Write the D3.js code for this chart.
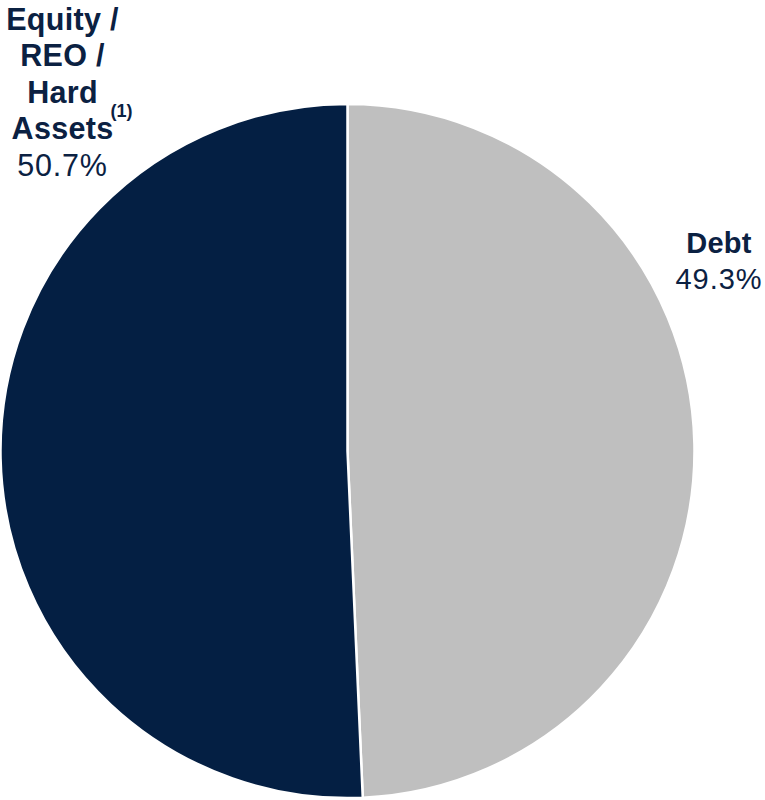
<!DOCTYPE html>
<html>
<head>
<meta charset="utf-8">
<script src="https://cdn.jsdelivr.net/npm/d3@7"></script>
<style>
  html, body { margin: 0; padding: 0; background: #ffffff; }
  svg { display: block; }
  text { font-family: "Liberation Sans", Arial, sans-serif; fill: #0b2142; }
</style>
</head>
<body>
<svg id="chart" width="765" height="800"></svg>
<script>
// Portfolio split by asset type
const categories = ["Debt", "Equity / REO / Hard Assets"];
const values = [49.3, 50.7];
const colors = ["#bfbfbf", "#041f43"];
// Label lines (bold name lines) per slice
const labelLines = [["Debt"], ["Equity /", "REO /", "Hard", "Assets"]];
const footnotes = ["", "(1)"];

const svg = d3.select("#chart");
const cx = 347.5, cy = 451, r = 347;

const data = categories.map((c, i) => ({ name: c, value: values[i], color: colors[i], lines: labelLines[i], note: footnotes[i] }));

const pie = d3.pie().sort(null).value(d => d.value).startAngle(0).endAngle(2 * Math.PI);
const arc = d3.arc().innerRadius(0).outerRadius(r);

const g = svg.append("g").attr("transform", `translate(${cx},${cy})`);
g.selectAll("path")
  .data(pie(data))
  .join("path")
  .attr("d", arc)
  .attr("fill", d => d.data.color)
  .attr("stroke", "#ffffff")
  .attr("stroke-width", 2.5)
  .attr("stroke-linejoin", "round");

const fmt = v => d3.format(".1f")(v) + "%";

// Label anchors (centre x, baseline of first line, font size)
const labelPos = [
  { x: 719, y: 252.5, size: 29, lineH: 36.5, spacing: 1 },
  { x: 62.5, y: 29.5, size: 30.5, lineH: 36.5, spacing: 0.8 }
];

data.forEach((d, i) => {
  const p = labelPos[i];
  const t = svg.append("g");
  d.lines.forEach((ln, j) => {
    const txt = t.append("text")
      .attr("x", p.x)
      .attr("y", p.y + j * p.lineH)
      .attr("text-anchor", "middle")
      .attr("font-size", p.size)
      .attr("font-weight", "bold")
      .attr("letter-spacing", 0.3)
      .text(ln);
    if (j === d.lines.length - 1 && d.note) {
      const w = txt.node().getComputedTextLength();
      t.append("text")
        .attr("x", p.x + w / 2 - 3)
        .attr("y", p.y + j * p.lineH - 22)
        .attr("font-size", 18)
        .attr("font-weight", "bold")
        .text(d.note);
    }
  });
  t.append("text")
    .attr("x", p.x)
    .attr("y", p.y + d.lines.length * p.lineH)
    .attr("text-anchor", "middle")
    .attr("font-size", p.size)
    .attr("letter-spacing", p.spacing)
    .text(fmt(d.value));
});
</script>
</body>
</html>
